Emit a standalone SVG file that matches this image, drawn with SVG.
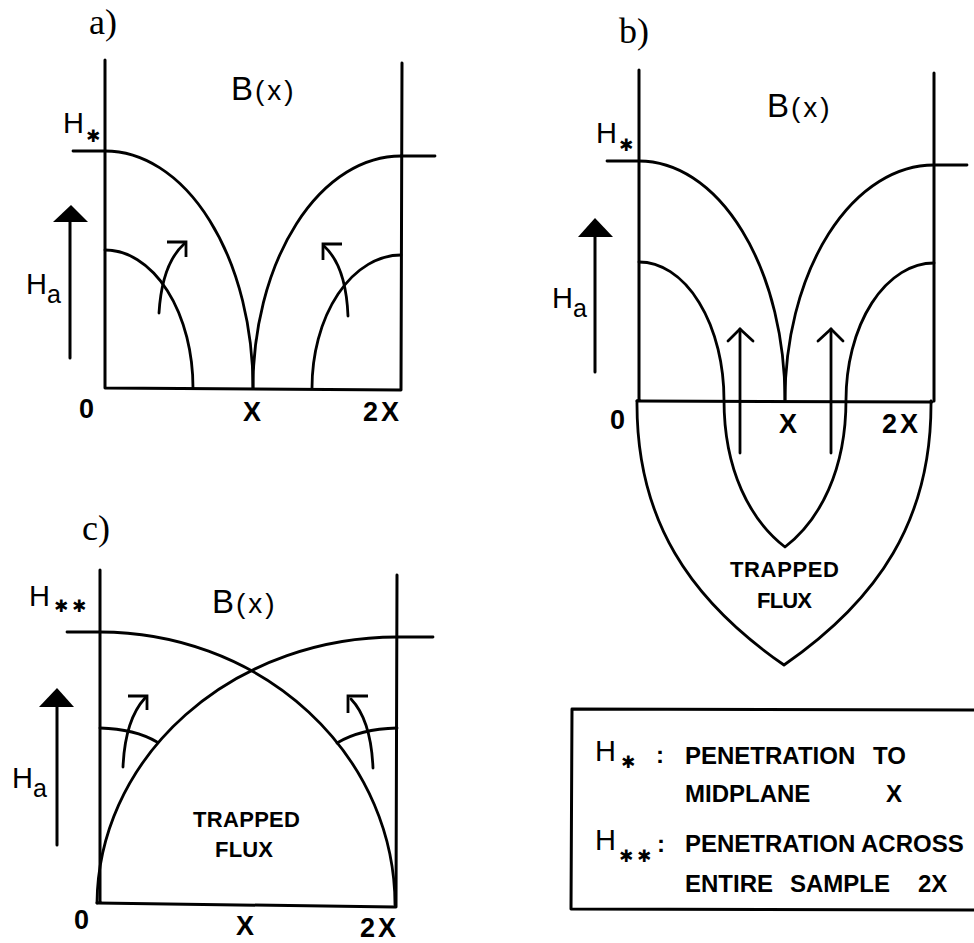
<svg xmlns="http://www.w3.org/2000/svg" width="974" height="943" viewBox="0 0 974 943">
<style>
  .ln{fill:none;stroke:#000;stroke-width:3;stroke-linecap:round;stroke-linejoin:round}
  .cv{fill:none;stroke:#000;stroke-width:2.8;stroke-linecap:round;stroke-linejoin:round}
  .ah{fill:none;stroke:#000;stroke-width:2.8;stroke-linecap:butt;stroke-linejoin:miter}
  .tri{fill:#000;stroke:none}
  .t{font-family:"Liberation Sans",Arial,sans-serif;fill:#000}
  .ser{font-family:"Liberation Serif","Times New Roman",serif;fill:#000;font-size:36px}
  .h{font-size:29px}
  .sub{font-size:25px}
  .ax{font-size:27px;font-weight:bold;letter-spacing:3px}
  .b{font-size:33px}
  .bx{font-size:28px;letter-spacing:3px}
  .tf{font-size:22px;font-weight:bold}
  .lg{font-size:24px;font-weight:bold}
  .st{font-family:"DejaVu Sans",sans-serif;font-size:17px;fill:#000;text-anchor:middle}
</style>

<g id="panel-a">
  <text class="ser" x="89" y="34">a)</text>
  <g id="a-frame">
    <path class="ln" d="M105,60 L105,388 L401,390 M402,63 L401,390"/>
    <path class="cv" d="M73,151 L105,151 M401,156 L435,156"/>
  </g>
  <g id="a-curves">
    <path class="cv" d="M105,151 A148,237 0 0 1 253,388"/>
    <path class="cv" d="M253,388 A148,232 0 0 1 401,156"/>
    <path class="cv" d="M105,250 A88,138 0 0 1 193,388"/>
    <path class="cv" d="M312,388 A89,133 0 0 1 401,255"/>
  </g>
  <g id="a-arrows">
    <path class="cv" d="M159,313 Q162,264 184,244"/>
    <path class="ah" d="M167,242 L186,242 L186,257"/>
    <path class="cv" d="M348,316 Q346,266 324,246"/>
    <path class="ah" d="M342,244 L323,244 L323,260"/>
    <path class="ln" d="M70,358 L70,222"/>
    <polygon class="tri" points="53,222 88,222 71,205"/>
  </g>
  <text class="t b" x="231" y="100">B<tspan class="bx" dx="2">(x)</tspan></text>
  <text class="t h" x="63" y="133">H</text>
  <text class="st" x="93" y="142">✱</text>
  <text class="t h" x="26" y="294">H<tspan class="sub" dy="9">a</tspan></text>
  <text class="t ax" x="79" y="418">0</text>
  <text class="t ax" x="243" y="421">X</text>
  <text class="t ax" x="363" y="421">2X</text>
</g>

<g id="panel-b">
  <text class="ser" x="619" y="43">b)</text>
  <g id="b-frame">
    <path class="ln" d="M639,70 L639,401 M934,73 L934,401 M637,401 L932,402"/>
    <path class="cv" d="M607,161 L639,161 M934,165 L967,165"/>
  </g>
  <g id="b-curves">
    <path class="cv" d="M639,161 A146,239 0 0 1 785,400"/>
    <path class="cv" d="M785,400 A149,235 0 0 1 934,165"/>
    <path class="cv" d="M639,262 A85,138 0 0 1 724,400 C724,470 750,520 785,547 C820,520 846,470 846,400 A88,137 0 0 1 934,263"/>
    <path class="cv" d="M637,401 C636,520 690,600 784,665 C878,600 932,520 931,401"/>
  </g>
  <g id="b-arrows">
    <path class="cv" d="M740,453 L740,329"/>
    <path class="cv" d="M728,341 L740,329 L753,341"/>
    <path class="cv" d="M831,453 L831,329"/>
    <path class="cv" d="M818,341 L831,329 L843,341"/>
    <path class="ln" d="M595,372 L595,237"/>
    <polygon class="tri" points="578,237 613,237 595,218"/>
  </g>
  <text class="t b" x="767" y="117">B<tspan class="bx" dx="2">(x)</tspan></text>
  <text class="t h" x="596" y="143">H</text>
  <text class="st" x="626" y="151">✱</text>
  <text class="t h" x="552" y="308">H<tspan class="sub" dy="9">a</tspan></text>
  <text class="t ax" x="610" y="429">0</text>
  <text class="t ax" x="779" y="433">X</text>
  <text class="t ax" x="882" y="433">2X</text>
  <text class="t tf" x="730" y="577" textLength="109">TRAPPED</text>
  <text class="t tf" x="757" y="608" textLength="55">FLUX</text>
</g>

<g id="panel-c">
  <text class="ser" x="82" y="540">c)</text>
  <g id="c-frame">
    <path class="ln" d="M100,570 L100,903 M397,575 L396,907 M97,903 L395,907"/>
    <path class="cv" d="M67,632 L100,632 M397,637 L433,637"/>
  </g>
  <g id="c-curves">
    <path class="cv" d="M100,632 A295,273 0 0 1 395,905"/>
    <path class="cv" d="M97,903 A300,268 0 0 1 397,637"/>
    <path class="cv" d="M100,728 Q135,729 157,742"/>
    <path class="cv" d="M337,743 Q360,729 397,728"/>
  </g>
  <g id="c-arrows">
    <path class="cv" d="M123,767 Q125,720 145,698"/>
    <path class="ah" d="M128,696 L147,696 L147,710"/>
    <path class="cv" d="M373,768 Q371,720 351,699"/>
    <path class="ah" d="M368,696 L348,696 L348,713"/>
    <path class="ln" d="M57,845 L57,707"/>
    <polygon class="tri" points="39,707 74,707 57,688"/>
  </g>
  <text class="t b" x="212" y="613">B<tspan class="bx" dx="2">(x)</tspan></text>
  <text class="t h" x="29" y="606">H</text>
  <text class="st" x="61" y="612">✱</text>
  <text class="st" x="79" y="612">✱</text>
  <text class="t h" x="12" y="788">H<tspan class="sub" dy="9">a</tspan></text>
  <text class="t tf" x="193" y="827" textLength="107">TRAPPED</text>
  <text class="t tf" x="215" y="857" textLength="58">FLUX</text>
  <text class="t ax" x="74" y="929">0</text>
  <text class="t ax" x="236" y="935">X</text>
  <text class="t ax" x="360" y="937">2X</text>
</g>

<g id="legend">
  <path class="ln" d="M980,710 L572,709 L571,909 L980,910"/>
  <text class="t h" x="595" y="761">H</text>
  <text class="st" x="628" y="768">✱</text>
  <text class="t lg" x="656" y="763">:</text>
  <text class="t lg" x="685" y="764">PENETRATION</text>
  <text class="t lg" x="873" y="764">TO</text>
  <text class="t lg" x="685" y="802">MIDPLANE</text>
  <text class="t lg" x="886" y="802">X</text>
  <text class="t h" x="595" y="850">H</text>
  <text class="st" x="626" y="862">✱</text>
  <text class="st" x="644" y="862">✱</text>
  <text class="t lg" x="657" y="852">:</text>
  <text class="t lg" x="685" y="852">PENETRATION ACROSS</text>
  <text class="t lg" x="685" y="892">ENTIRE</text>
  <text class="t lg" x="790" y="892">SAMPLE</text>
  <text class="t lg" x="918" y="892">2X</text>
</g>
</svg>
